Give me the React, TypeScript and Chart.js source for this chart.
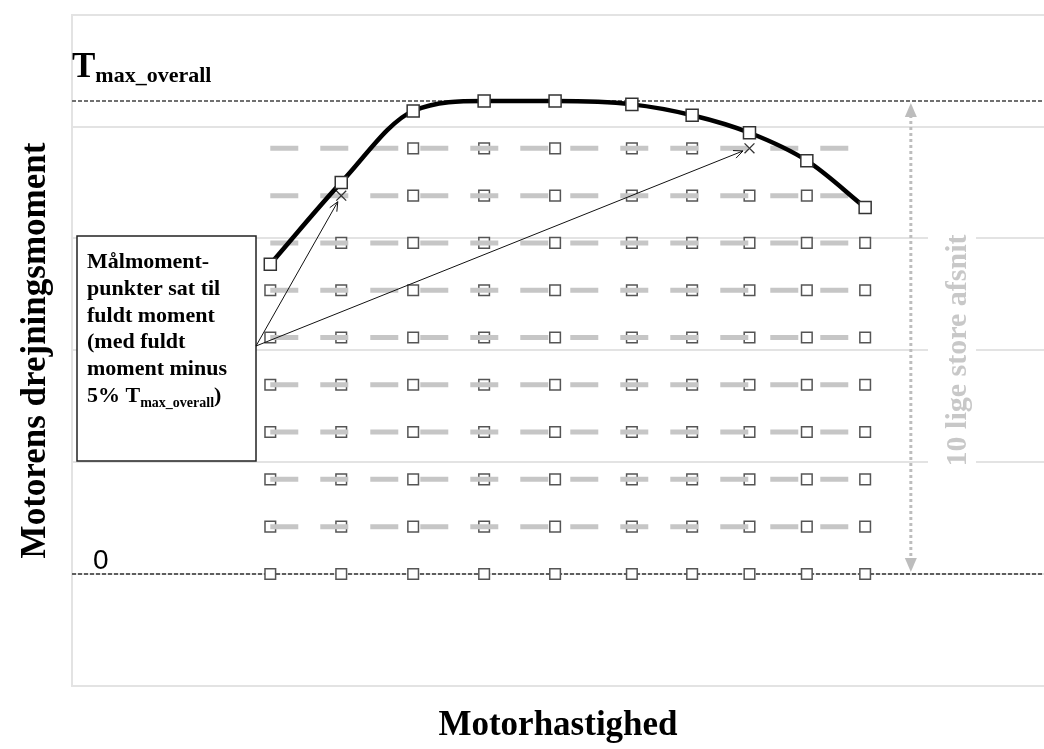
import React, { useEffect, useRef } from 'react';
import { Chart, registerables } from 'chart.js';

Chart.register(...registerables);

// Motor speed positions of the map points (percent of the drawn speed range)
const SPEED = [20.4, 27.7, 35.1, 42.4, 49.7, 57.6, 63.8, 69.7, 75.6, 81.6];
// Full-load torque curve (percent of T_max_overall)
const FULL_TORQUE = [65.5, 82.8, 97.9, 100, 100, 99.3, 97.0, 93.3, 87.4, 77.5];
// Target torque levels: 10 equal divisions between 0 and T_max_overall
const TARGET_LEVELS = [0, 10, 20, 30, 40, 50, 60, 70, 80, 90];
const T_MAX_OVERALL = 100;
const MINUS_MARGIN = 5; // "fuldt moment minus 5% Tmax_overall"
const X_MIN = 0;
const X_MAX = 100;
const Y_MIN = -23.7;
const Y_MAX = 118.2;
const Y_GRID = [-23.7, 0, 23.65, 47.3, 70.95, 94.6, 118.2];
const DIVISION_ARROW_X = 86.3;

const BOX_LINES = ['Målmoment-', 'punkter sat til', 'fuldt moment', '(med fuldt', 'moment minus'];
const X_TITLE = 'Motorhastighed';
const Y_TITLE = 'Motorens drejningsmoment';
const SIDE_LABEL = '10 lige store afsnit';

const SERIF = "'Liberation Serif', 'Times New Roman', serif";
const SANS = "'Liberation Sans', Arial, sans-serif";

function drawArrowHead(ctx: CanvasRenderingContext2D, x1: number, y1: number, x2: number, y2: number, len: number) {
  const ang = Math.atan2(y2 - y1, x2 - x1);
  const a = 0.42;
  ctx.beginPath();
  ctx.moveTo(x2 - len * Math.cos(ang - a), y2 - len * Math.sin(ang - a));
  ctx.lineTo(x2, y2);
  ctx.lineTo(x2 - len * Math.cos(ang + a), y2 - len * Math.sin(ang + a));
  ctx.stroke();
}

const annotationPlugin = {
  id: 'annotations',
  afterDraw(chart: any) {
    const { ctx, scales, chartArea } = chart;
    const xs = scales.x;
    const ys = scales.y;
    ctx.save();

    // T_max_overall label
    const yTmax = ys.getPixelForValue(T_MAX_OVERALL);
    ctx.fillStyle = '#000';
    ctx.textAlign = 'left';
    ctx.textBaseline = 'alphabetic';
    ctx.font = `bold 35px ${SERIF}`;
    ctx.fillText('T', 72, yTmax - 24);
    const tw = ctx.measureText('T').width;
    ctx.font = `bold 22px ${SERIF}`;
    ctx.fillText('max_overall', 72 + tw, yTmax - 19);

    // zero label
    const y0 = ys.getPixelForValue(0);
    ctx.font = `28px ${SANS}`;
    ctx.fillText('0', 93, y0 - 5);

    // side label with white background
    const cy = (chartArea.top + chartArea.bottom) / 2;
    ctx.fillStyle = '#fff';
    ctx.fillRect(928, cy - 124, 48, 248);
    ctx.save();
    ctx.translate(958, cy);
    ctx.rotate(-Math.PI / 2);
    ctx.fillStyle = '#c8c8c8';
    ctx.font = `bold 30px ${SERIF}`;
    ctx.textAlign = 'center';
    ctx.textBaseline = 'middle';
    ctx.fillText(SIDE_LABEL, 0, 0);
    ctx.restore();

    // vertical dotted double arrow
    const ax = xs.getPixelForValue(DIVISION_ARROW_X);
    const aTop = yTmax + 2;
    const aBot = y0 - 2;
    ctx.strokeStyle = '#bdbdbd';
    ctx.lineWidth = 3;
    ctx.setLineDash([3, 3]);
    ctx.beginPath();
    ctx.moveTo(ax, aTop + 12);
    ctx.lineTo(ax, aBot - 12);
    ctx.stroke();
    ctx.setLineDash([]);
    ctx.fillStyle = '#bdbdbd';
    ctx.beginPath();
    ctx.moveTo(ax, aTop);
    ctx.lineTo(ax - 6, aTop + 14);
    ctx.lineTo(ax + 6, aTop + 14);
    ctx.closePath();
    ctx.fill();
    ctx.beginPath();
    ctx.moveTo(ax, aBot);
    ctx.lineTo(ax - 6, aBot - 14);
    ctx.lineTo(ax + 6, aBot - 14);
    ctx.closePath();
    ctx.fill();

    // annotation box
    const bx = 77, by = 236, bw = 179, bh = 225;
    ctx.fillStyle = '#fff';
    ctx.fillRect(bx, by, bw, bh);
    ctx.strokeStyle = '#222';
    ctx.lineWidth = 1.5;
    ctx.strokeRect(bx, by, bw, bh);
    ctx.fillStyle = '#000';
    ctx.textAlign = 'left';
    ctx.textBaseline = 'alphabetic';
    ctx.font = `bold 22px ${SERIF}`;
    const lh = 26.8;
    BOX_LINES.forEach((t, i) => ctx.fillText(t, 87, 268 + i * lh));
    const lastY = 268 + 5 * lh;
    let cx = 87;
    ctx.fillText('5% T', cx, lastY);
    cx += ctx.measureText('5% T').width;
    ctx.font = `bold 14px ${SERIF}`;
    ctx.fillText('max_overall', cx, lastY + 5);
    cx += ctx.measureText('max_overall').width;
    ctx.font = `bold 22px ${SERIF}`;
    ctx.fillText(')', cx, lastY);

    // arrows from the box to the points set to full torque minus 5%
    const sx = 256, sy = 346;
    ctx.strokeStyle = '#111';
    ctx.lineWidth = 1;
    SPEED.forEach((s, i) => {
      TARGET_LEVELS.forEach((lvl) => {
        if (lvl > FULL_TORQUE[i] - MINUS_MARGIN && lvl < FULL_TORQUE[i]) {
          const tx = xs.getPixelForValue(s);
          const ty = ys.getPixelForValue(lvl);
          const d = Math.hypot(tx - sx, ty - sy);
          const ex = tx - ((tx - sx) / d) * 7;
          const ey = ty - ((ty - sy) / d) * 7;
          ctx.beginPath();
          ctx.moveTo(sx, sy);
          ctx.lineTo(ex, ey);
          ctx.stroke();
          drawArrowHead(ctx, sx, sy, ex, ey, 10);
        }
      });
    });

    ctx.restore();
  },
};

export default function App() {
  const ref = useRef<HTMLCanvasElement>(null);

  useEffect(() => {
    if (!ref.current) return;
    const datasets: any[] = [];

    // full-load curve (on top)
    datasets.push({
      data: SPEED.map((x, i) => ({ x, y: FULL_TORQUE[i] })),
      borderColor: '#000',
      borderWidth: 4.5,
      cubicInterpolationMode: 'monotone',
      pointStyle: 'rect',
      pointRadius: 8.5,
      pointBackgroundColor: '#fff',
      pointBorderColor: '#333',
      pointBorderWidth: 1.5,
      order: 0,
    });

    // points set to full torque minus 5%
    const adjusted: { x: number; y: number }[] = [];
    SPEED.forEach((x, i) => {
      TARGET_LEVELS.forEach((lvl) => {
        if (lvl > FULL_TORQUE[i] - MINUS_MARGIN && lvl < FULL_TORQUE[i]) adjusted.push({ x, y: lvl });
      });
    });
    datasets.push({
      data: adjusted,
      showLine: false,
      pointStyle: 'crossRot',
      pointRadius: 7,
      pointBorderColor: '#333',
      pointBorderWidth: 1.3,
      order: 1,
    });

    // grey dashed target rows
    TARGET_LEVELS.filter((l) => l > 0).forEach((lvl) => {
      datasets.push({
        data: SPEED.map((x) => ({ x, y: lvl })),
        borderColor: '#c6c6c6',
        borderWidth: 5,
        borderDash: [28, 22],
        pointRadius: 0,
        order: 5,
      });
    });

    // target points
    TARGET_LEVELS.forEach((lvl) => {
      datasets.push({
        data: SPEED.map((x, i) => ({ x, y: lvl, ok: lvl <= FULL_TORQUE[i] - MINUS_MARGIN }))
          .filter((p) => p.ok)
          .map(({ x, y }) => ({ x, y })),
        showLine: false,
        pointStyle: 'rect',
        pointRadius: 7.5,
        pointBackgroundColor: '#fff',
        pointBorderColor: '#555',
        pointBorderWidth: 1.5,
        order: 6,
      });
    });

    // T_max_overall line and zero line
    datasets.push({
      data: [{ x: X_MIN, y: T_MAX_OVERALL }, { x: X_MAX, y: T_MAX_OVERALL }],
      borderColor: '#707070',
      borderWidth: 2,
      borderDash: [4, 2],
      pointRadius: 0,
      order: 7,
    });
    datasets.push({
      data: [{ x: X_MIN, y: 0 }, { x: X_MAX, y: 0 }],
      borderColor: '#333',
      borderWidth: 1.5,
      borderDash: [4, 2],
      pointRadius: 0,
      order: 7,
    });

    const titleFont = { family: SERIF, size: 35, weight: 'bold' as const, lineHeight: 1.2 };

    const chart = new Chart(ref.current, {
      type: 'line',
      data: { datasets },
      options: {
        animation: false,
        responsive: false,
        layout: { autoPadding: false, padding: { top: 15, right: 0, bottom: 2, left: 0 } },
        plugins: { legend: { display: false }, tooltip: { enabled: false } },
        events: [],
        scales: {
          x: {
            type: 'linear',
            position: 'bottom',
            min: X_MIN,
            max: X_MAX,
            grid: { display: false, drawTicks: false },
            border: { display: true, color: '#e3e3e3', width: 2 },
            ticks: { display: false },
            title: {
              display: true,
              text: X_TITLE,
              color: '#000',
              font: titleFont,
              padding: { top: 19, bottom: 0 },
            },
          },
          xTop: {
            type: 'linear',
            position: 'top',
            min: X_MIN,
            max: X_MAX,
            grid: { display: false, drawTicks: false },
            border: { display: true, color: '#e3e3e3', width: 2 },
            ticks: { display: false },
          },
          y: {
            type: 'linear',
            position: 'left',
            min: Y_MIN,
            max: Y_MAX,
            afterBuildTicks: (axis: any) => {
              axis.ticks = Y_GRID.map((v) => ({ value: v }));
            },
            grid: { color: '#e3e3e3', lineWidth: 2, drawTicks: false },
            border: { display: true, color: '#e3e3e3', width: 2 },
            ticks: { display: false },
            title: {
              display: true,
              text: Y_TITLE,
              color: '#000',
              font: titleFont,
              padding: { top: 15, bottom: 15 },
            },
          },
        },
      },
      plugins: [annotationPlugin],
    });
    return () => chart.destroy();
  }, []);

  return (
    <div style={{ position: 'absolute', left: 0, top: 0, width: 1044, height: 749, background: '#fff' }}>
      <canvas ref={ref} width={1044} height={749} style={{ display: 'block' }} />
    </div>
  );
}
